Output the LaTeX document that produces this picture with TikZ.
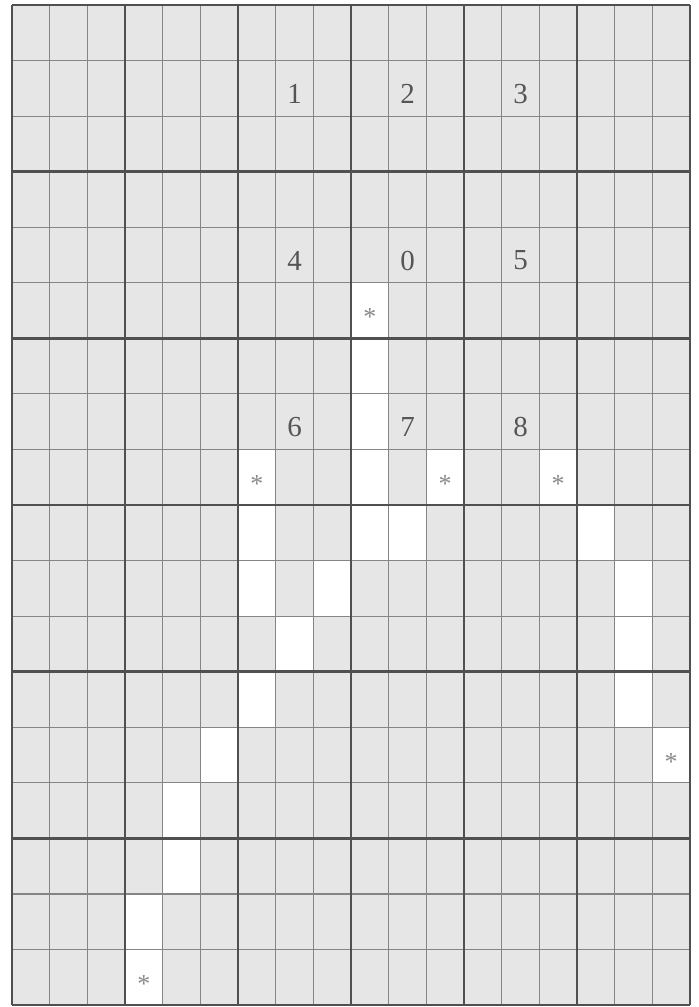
\documentclass[tikz,border=0pt]{standalone}
\usepackage{fontspec}
\setmainfont{Liberation Serif}
\definecolor{gridbg}{HTML}{E6E6E6}
\definecolor{thinline}{HTML}{858585}
\definecolor{thickline}{HTML}{505050}
\definecolor{numcol}{HTML}{555555}
\definecolor{starcol}{HTML}{8A8A8A}
\tikzset{
  opencell/.style={fill=white, draw=none, inner sep=0pt, minimum width=37.667pt, minimum height=55.556pt},
  thinrule/.style={draw=thinline, line width=1.2pt},
  thickrule/.style={draw=thickline, line width=2.6pt},
  digit/.style={text=numcol, inner sep=0pt, font=\fontsize{29}{31}\selectfont},
  starmark/.style={text=starcol, inner sep=0pt, font=\fontsize{26}{28}\selectfont}
}
\begin{document}
\begin{tikzpicture}
\useasboundingbox (0,0) rectangle (699pt,-1007pt);
\fill[white] (0,0) rectangle (699pt,-1007pt);
\begin{scope}[shift={(12pt,-5pt)}, x=37.667pt, y=-55.556pt]
  \fill[gridbg] (0,0) rectangle (18,18);
  % white (open) cells: column/row
  \foreach \c/\r in {9/5,9/6,9/7,9/8,10/9,9/9,6/8,11/8,14/8,15/9,16/10,16/11,16/12,17/13,
                     6/9,6/10,8/10,7/11,6/12,5/13,4/14,4/15,3/16,3/17}
    \node[opencell] (w\c-\r) at (\c+0.5,\r+0.5) {};
  % grid lines
  \foreach \i in {1,2,4,5,7,8,10,11,13,14,16,17} {
    \draw[thinrule] (\i,0) -- (\i,18);
    \draw[thinrule] (0,\i) -- (18,\i);
  }
  \foreach \i in {0,3,...,18} {
    \draw[thickrule] (\i,0) -- (\i,18);
    \draw[thickrule] (0,\i) -- (18,\i);
  }
  % digits
  \foreach \c/\r/\t in {7/1/1,10/1/2,13/1/3,7/4/4,10/4/0,13/4/5,7/7/6,10/7/7,13/7/8}
    \node[digit] (n\t) at (\c+0.5,\r+0.6) {\t};
  % asterisks
  \foreach \c/\r in {9/5,6/8,11/8,14/8,17/13,3/17}
    \node[starmark] (s\c-\r) at (\c+0.5,\r+0.62) {*};
\end{scope}
\end{tikzpicture}
\end{document}
